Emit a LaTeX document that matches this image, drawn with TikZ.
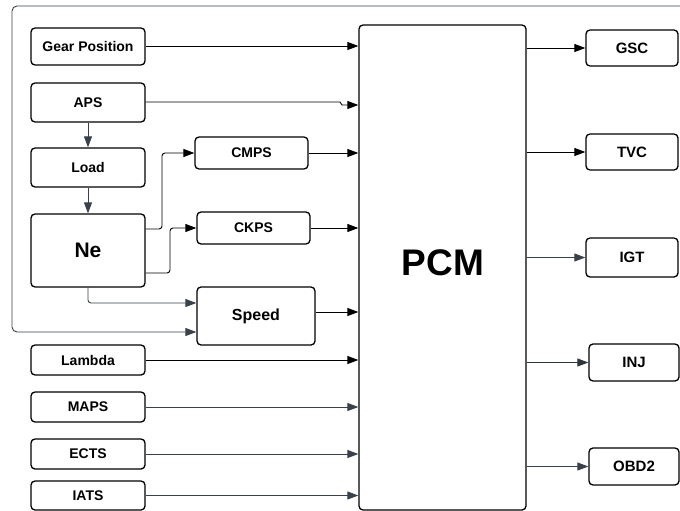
\documentclass[tikz,border=0pt]{standalone}
\usepackage{fontspec}
\setmainfont{Liberation Sans}
\usetikzlibrary{arrows.meta}
\definecolor{dk}{HTML}{3A414A}
\begin{document}
\begin{tikzpicture}[x=1pt,y=-1pt,
  blk/.style={draw=black,line width=1.3pt,rounded corners=4pt,inner sep=0pt,font=\bfseries\fontsize{14}{16}\selectfont},
  arr/.style={line width=0.9pt,-{Triangle[length=11pt,width=8pt]}},
  garr/.style={arr,draw=dk},
  gtip/.style={line width=0.9pt,draw=dk,-{Triangle[length=11pt,width=8pt,color=dk]}}]
\useasboundingbox (0,0) rectangle (680,511);
\newcommand{\bx}[6]{\node[blk,minimum width=#4-#2,minimum height=#5-#3,#6] (#1) at ({(#2+#4)/2},{(#3+#5)/2}) {};}
\node[blk,minimum width=114pt,minimum height=37pt] (gear) at (88,46.5) {Gear Position};
\node[blk,minimum width=114pt,minimum height=39pt] (aps) at (88,102.5) {APS};
\node[blk,minimum width=114pt,minimum height=39pt] (load) at (88,167.5) {Load};
\node[blk,minimum width=114pt,minimum height=73pt,font=\bfseries\fontsize{21}{24}\selectfont] (ne) at (88,250.5) {Ne};
\node[blk,minimum width=113pt,minimum height=32pt] (cmps) at (251.5,153) {CMPS};
\node[blk,minimum width=113pt,minimum height=32pt] (ckps) at (253.5,228) {CKPS};
\node[blk,minimum width=118pt,minimum height=58pt,font=\bfseries\fontsize{16}{18}\selectfont] (speed) at (256,316) {Speed};
\node[blk,minimum width=114pt,minimum height=30pt] (lambda) at (88,360) {Lambda};
\node[blk,minimum width=114pt,minimum height=30pt] (maps) at (88,407) {MAPS};
\node[blk,minimum width=114pt,minimum height=30pt] (ects) at (88,454) {ECTS};
\node[blk,minimum width=114pt,minimum height=29pt] (iats) at (88,495.5) {IATS};
\node[blk,minimum width=167pt,minimum height=485pt,font=\bfseries\fontsize{37}{40}\selectfont] (pcm) at (442.5,267.5) {};
\node[font=\bfseries\fontsize{37}{40}\selectfont] at (443,263) {PCM};
\node[blk,minimum width=92pt,minimum height=36pt,font=\bfseries\fontsize{15}{17}\selectfont] (gsc) at (632,48) {GSC};
\node[blk,minimum width=92pt,minimum height=36pt,font=\bfseries\fontsize{15}{17}\selectfont] (tvc) at (632,152) {TVC};
\node[blk,minimum width=92pt,minimum height=39pt,font=\bfseries\fontsize{15}{17}\selectfont] (igt) at (632,257.5) {IGT};
\node[blk,minimum width=90pt,minimum height=37pt,font=\bfseries\fontsize{15}{17}\selectfont] (inj) at (634,362.5) {INJ};
\node[blk,minimum width=90pt,minimum height=37pt,font=\bfseries\fontsize{15}{17}\selectfont] (obd) at (634,466.5) {OBD2};
% inputs to PCM
\draw[arr] (gear.east |- 0,46) -- (pcm.west |- 0,46);
\draw[arr] (aps.east |- 0,102) -- (340,102) -- (342,105) -- (pcm.west |- 0,105);
\draw[arr] (cmps.east |- 0,153) -- (pcm.west |- 0,153);
\draw[arr] (ckps.east |- 0,228) -- (pcm.west |- 0,228);
\draw[arr] (speed.east |- 0,312) -- (pcm.west |- 0,312);
\draw[arr] (lambda.east) -- (pcm.west |- lambda.east);
\draw[gtip] (maps.east) -- (pcm.west |- maps.east);
\draw[gtip] (ects.east) -- (pcm.west |- ects.east);
\draw[arr,draw=dk] (iats.east) -- (pcm.west |- iats.east);
% chain
\draw[gtip] (aps) -- (load);
\draw[gtip] (load) -- (ne);
\draw[arr,rounded corners=3pt] (ne.east |- 0,229) -- (162,229) -- (162,153) -- (cmps.west);
\draw[arr,rounded corners=3pt] (ne.east |- 0,273) -- (170,273) -- (170,228) -- (ckps.west);
\draw[gtip,rounded corners=3pt] (ne.south) -- (88,303) -- (speed.west |- 0,303);
\coordinate (fb) at (680,6);
\draw[gtip,rounded corners=5pt] (fb) -- (12,6) -- (12,332) -- (speed.west |- 0,332);
% outputs
\draw[arr] (pcm.east |- gsc.west) -- (gsc.west);
\draw[arr] (pcm.east |- tvc.west) -- (tvc.west);
\draw[gtip] (pcm.east |- igt.west) -- (igt.west);
\draw[arr,draw=dk!80!black] (pcm.east |- inj.west) -- (inj.west);
\draw[gtip] (pcm.east |- obd.west) -- (obd.west);
\end{tikzpicture}
\end{document}
